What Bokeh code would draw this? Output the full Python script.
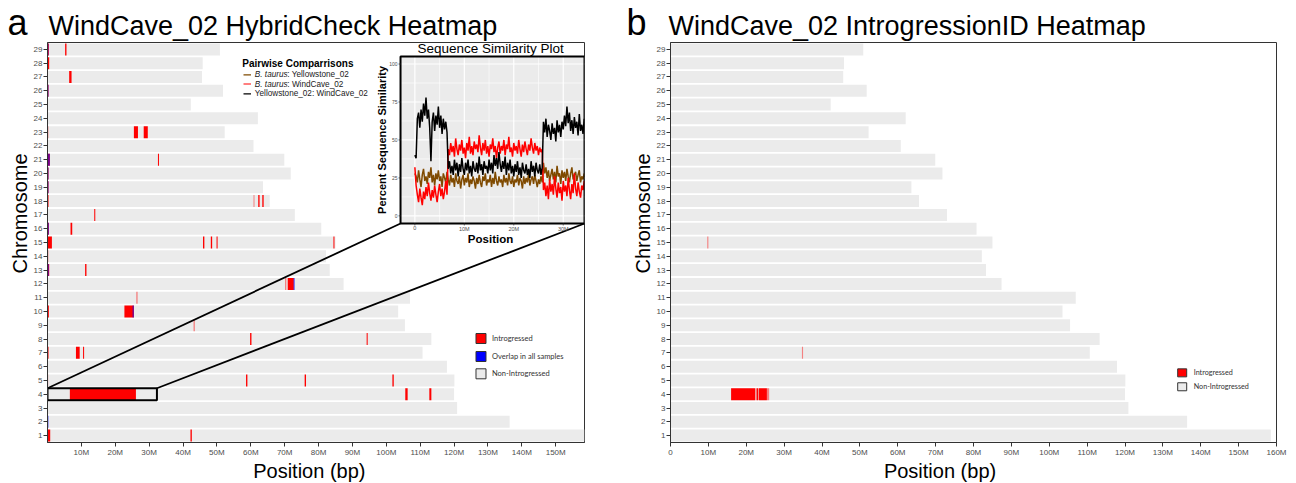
import math
from bokeh.plotting import figure
from bokeh.layouts import row, column
from bokeh.models import Range1d, FixedTicker, Title
from bokeh.embed import file_html
from bokeh.resources import INLINE
from bokeh.core.properties import value

FONT = "Liberation Sans"
LEG_FONT = "Lato"
MB = 1e6

# ---------------- data ----------------
CHROMS = list(range(1, 30))
CHROM_LEN_MB = [158.5, 136.4, 120.9, 120.0, 120.1, 117.9, 110.7, 113.3, 105.5, 103.5,
                107.0, 87.4, 83.3, 82.2, 85.0, 80.8, 73.0, 65.6, 63.6, 71.8,
                69.9, 60.8, 52.3, 62.1, 42.3, 51.8, 45.6, 45.8, 50.9]

# HybridCheck: introgressed windows
HC_CHR = [1, 1, 4, 4, 4, 5, 5, 5, 7, 7, 7, 8, 8, 10, 10, 12, 13, 13, 14, 15, 15, 15, 15, 15,
          16, 16, 17, 18, 18, 18, 19, 20, 21, 21, 23, 23, 23, 26, 27, 28, 29, 29]
HC_START = [0.0, 42.2, 6.6, 105.6, 112.7, 58.6, 75.9, 101.8, 0.0, 8.4, 10.5, 59.8, 94.2, 0.0, 22.7,
            70.9, 0.0, 11.1, 0.0, 0.0, 45.9, 48.2, 49.9, 84.4, 0.0, 6.8, 13.8, 0.0, 62.2, 63.4,
            0.0, 0.0, 0.0, 32.6, 0.0, 25.5, 28.4, 0.0, 6.4, 0.0, 0.0, 5.2]
HC_END = [0.8, 42.6, 26.1, 106.3, 113.3, 59.0, 76.3, 102.2, 0.3, 9.5, 10.8, 60.2, 94.5, 0.4, 25.5,
          72.7, 0.5, 11.5, 0.2, 1.3, 46.3, 48.6, 50.2, 84.7, 0.4, 7.3, 14.1, 0.3, 62.6, 63.8,
          0.3, 0.3, 0.7, 32.9, 0.2, 26.7, 29.6, 0.3, 7.1, 0.5, 0.4, 5.6]
# HybridCheck: weak (partial) introgression signal
HCF_CHR = [9, 11, 12, 18, 5]
HCF_START = [43.1, 26.2, 70.1, 60.8, 0.0]
HCF_END = [43.5, 26.6, 70.5, 61.1, 0.2]
# HybridCheck: overlap in all samples
HCO_CHR = [2, 13, 16, 19, 20, 21, 26, 29, 12, 10]
HCO_START = [0.0, 0.0, 0.0, 0.0, 0.0, 0.0, 0.0, 0.0, 72.6, 25.1]
HCO_END = [0.3, 0.4, 0.4, 0.3, 0.3, 0.7, 0.3, 0.3, 73.0, 25.5]

# IntrogressionID
ID_CHR = [4, 4, 4]
ID_START = [16.0, 22.7, 23.35]
ID_END = [22.4, 23.2, 25.45]
IDF_CHR = [4, 7, 15]
IDF_START = [25.45, 34.7, 9.7]
IDF_END = [26.05, 35.0, 10.0]

# zoomed region (chromosome 4)
ZOOM_CHR = 4
ZOOM_START_MB = 0.0
ZOOM_END_MB = 32.3

# sequence similarity along the zoomed region
SIM_POS_MB = [0.0, 0.25, 0.5, 0.75, 1.0, 1.25, 1.5, 1.75, 2.0, 2.25,
              2.5, 2.75, 3.0, 3.25, 3.5, 3.75, 4.0, 4.25, 4.5, 4.75,
              5.0, 5.25, 5.5, 5.75, 6.0, 6.25, 6.5, 6.75, 7.0, 7.25,
              7.5, 7.75, 8.0, 8.25, 8.5, 8.75, 9.0, 9.25, 9.5, 9.75,
              10.0, 10.25, 10.5, 10.75, 11.0, 11.25, 11.5, 11.75, 12.0, 12.25,
              12.5, 12.75, 13.0, 13.25, 13.5, 13.75, 14.0, 14.25, 14.5, 14.75,
              15.0, 15.25, 15.5, 15.75, 16.0, 16.25, 16.5, 16.75, 17.0, 17.25,
              17.5, 17.75, 18.0, 18.25, 18.5, 18.75, 19.0, 19.25, 19.5, 19.75,
              20.0, 20.25, 20.5, 20.75, 21.0, 21.25, 21.5, 21.75, 22.0, 22.25,
              22.5, 22.75, 23.0, 23.25, 23.5, 23.75, 24.0, 24.25, 24.5, 24.75,
              25.0, 25.25, 25.5, 25.75, 26.0, 26.25, 26.5, 26.75, 27.0, 27.25,
              27.5, 27.75, 28.0, 28.25, 28.5, 28.75, 29.0, 29.25, 29.5, 29.75,
              30.0, 30.25, 30.5, 30.75, 31.0, 31.25, 31.5, 31.75, 32.0, 32.25,
              32.5, 32.75, 33.0, 33.25, 33.5, 33.75, 34.0, 34.25]
SIM_TAURUS_YELLOWSTONE = [28, 26, 22, 30, 24, 19, 27, 31, 23, 26,
                          21, 29, 25, 32, 22, 27, 20, 28, 24, 30,
                          23, 26, 19, 28, 25, 22, 29, 24, 20, 27,
                          22, 25, 19, 28, 23, 21, 26, 18, 24, 27,
                          20, 25, 22, 28, 19, 24, 21, 26, 23, 18,
                          25, 21, 27, 22, 19, 26, 23, 28, 20, 24,
                          22, 27, 19, 25, 21, 29, 23, 20, 26, 22,
                          24, 19, 27, 22, 25, 20, 28, 23, 21, 26,
                          19, 24, 22, 27, 20, 25, 23, 18, 26, 21,
                          25, 22, 28, 20, 24, 26, 21, 27, 23, 19,
                          24, 21, 26, 22, 35, 28, 32, 25, 30, 23,
                          27, 31, 24, 29, 22, 33, 26, 28, 21, 30,
                          25, 29, 23, 31, 26, 22, 28, 32, 24, 27,
                          29, 23, 27, 30, 22, 26, 24, 28]
SIM_TAURUS_WINDCAVE = [32, 20, 14, 9, 18, 12, 7, 16, 11, 19,
                       13, 22, 15, 10, 17, 12, 20, 14, 9, 16,
                       21, 13, 18, 11, 16, 23, 14, 44, 40, 48,
                       42, 46, 39, 51, 44, 40, 47, 43, 50, 41,
                       45, 38, 48, 43, 52, 41, 46, 40, 49, 44,
                       47, 42, 53, 45, 40, 48, 43, 50, 41, 46,
                       39, 47, 44, 51, 42, 46, 38, 45, 49, 41,
                       46, 43, 50, 40, 47, 44, 52, 42, 45, 39,
                       48, 43, 46, 41, 50, 44, 39, 47, 42, 49,
                       44, 40, 47, 43, 51, 45, 41, 48, 43, 46,
                       40, 45, 42, 44, 17, 22, 13, 20, 11, 24,
                       16, 21, 14, 26, 18, 12, 22, 15, 19, 10,
                       23, 16, 20, 13, 25, 17, 11, 21, 15, 28,
                       18, 13, 22, 16, 12, 20, 17, 23]
SIM_YELLOWSTONE_WINDCAVE = [40, 38, 64, 68, 58, 70, 62, 74, 66, 78,
                            64, 70, 58, 36, 62, 68, 56, 66, 60, 72,
                            58, 66, 54, 64, 57, 62, 55, 31, 36, 28,
                            33, 27, 37, 30, 35, 26, 34, 29, 38, 31,
                            27, 35, 30, 37, 28, 33, 26, 36, 31, 29,
                            35, 28, 39, 30, 34, 27, 36, 31, 33, 28,
                            37, 30, 35, 28, 40, 33, 38, 31, 42, 34,
                            29, 36, 31, 39, 27, 35, 30, 37, 28, 33,
                            26, 34, 29, 36, 27, 32, 25, 35, 30, 28,
                            34, 27, 31, 25, 36, 29, 33, 26, 35, 30,
                            28, 34, 27, 32, 62, 55, 64, 52, 60, 56,
                            50, 61, 54, 58, 49, 63, 55, 60, 52, 62,
                            57, 66, 59, 72, 61, 68, 56, 63, 54, 65,
                            58, 62, 53, 67, 56, 60, 54, 64]

SIM_Y_MAJOR = [0, 25, 50, 75, 100]
SIM_Y_MINOR = [12.5, 37.5, 62.5, 87.5]
SIM_Y_LABELS = ["0", "25", "50", "75", "100"]
SIM_X_MAJOR_MB = [0, 10, 20, 30]
SIM_X_MINOR_MB = [5, 15, 25]
SIM_X_LABELS = ["0", "10M", "20M", "30M"]

PAIR_LABELS_ITALIC = ["B. taurus", "B. taurus", ""]
PAIR_LABELS_REST = [": Yellowstone_02", ": WindCave_02", "Yellowstone_02: WindCave_02"]
PAIR_COLORS = ["#7F4A00", "#FF0000", "#000000"]

XTICKS_A_MB = [10, 20, 30, 40, 50, 60, 70, 80, 90, 100, 110, 120, 130, 140, 150]
XTICKS_B_MB = [0, 10, 20, 30, 40, 50, 60, 70, 80, 90, 100, 110, 120, 130, 140, 150, 160]

PANEL_LETTERS = ["a", "b"]
PANEL_TITLES = ["WindCave_02 HybridCheck Heatmap", "WindCave_02 IntrogressionID Heatmap"]

RED = "#FF0000"
BLUE = "#0000FF"
BAR_GRAY = "#EBEBEB"
BAR_H = 0.87
HEADER_H = 41
TOTAL_W = 1296


def mb(vals):
    return [v * MB for v in vals]


def tick_label(v):
    return "0" if v == 0 else f"{v}M"


def main_fig(width, xmax, border_left, border_right, xticks_mb, ylab_offset, xlab_offset):
    p = figure(width=width, height=483 - HEADER_H, x_range=Range1d(0, xmax), y_range=Range1d(0.5, 29.5),
               output_backend="svg", toolbar_location=None,
               min_border_left=border_left, min_border_right=border_right,
               min_border_top=1, min_border_bottom=41)
    p.xgrid.visible = False
    p.ygrid.visible = False
    p.outline_line_color = "#333333"
    p.outline_line_width = 1
    ticks = [int(v * MB) for v in xticks_mb]
    p.xaxis.ticker = FixedTicker(ticks=ticks)
    p.xaxis.major_label_overrides = {t: tick_label(v) for t, v in zip(ticks, xticks_mb)}
    p.yaxis.ticker = FixedTicker(ticks=CHROMS)
    for ax in (p.xaxis[0], p.yaxis[0]):
        ax.axis_line_color = "#333333"
        ax.axis_line_width = 1
        ax.major_tick_line_color = "#333333"
        ax.major_tick_in = 0
        ax.major_tick_out = 4
        ax.minor_tick_line_color = None
        ax.major_label_text_font = FONT
        ax.major_label_text_font_size = "8px"
        ax.major_label_text_color = "#4D4D4D"
        ax.major_label_standoff = 1
    p.add_layout(Title(text="Chromosome", align="left", offset=ylab_offset, vertical_align="bottom",
                       standoff=0, text_font=FONT, text_font_size="20px", text_font_style="normal",
                       text_color="#000000"), "left")
    p.add_layout(Title(text="Position (bp)", align="left", offset=xlab_offset, vertical_align="top",
                       standoff=0, text_font=FONT, text_font_size="20px", text_font_style="normal",
                       text_color="#000000"), "below")
    p.hbar(y=CHROMS, left=0, right=mb(CHROM_LEN_MB), height=BAR_H, fill_color=BAR_GRAY, line_color=None)
    return p


# ---------------- header (panel letters and titles) ----------------
hd = figure(width=TOTAL_W, height=HEADER_H, x_range=Range1d(0, TOTAL_W), y_range=Range1d(0, HEADER_H),
            title=None, x_axis_type=None, y_axis_type=None, output_backend="svg", toolbar_location=None,
            min_border=0, min_border_left=0, min_border_right=0, min_border_top=0, min_border_bottom=0)
hd.grid.visible = False
hd.outline_line_color = None
hd.text(x=[7, 626], y=[HEADER_H] * 2, y_offset=22.3, text=PANEL_LETTERS, text_baseline="middle",
        text_font=value(FONT), text_font_size="36px", text_color="#000000")
hd.text(x=[48, 668], y=[HEADER_H] * 2, y_offset=25.1, text=PANEL_TITLES, text_baseline="middle",
        text_font=value(FONT), text_font_size="27px", text_color="#000000")

# ---------------- panel a ----------------
XMAX_A = max(CHROM_LEN_MB) * MB
pa = main_fig(600, XMAX_A, 47, 16, XTICKS_A_MB, 169, 205.7)
pa.hbar(y=HC_CHR, left=mb(HC_START), right=mb(HC_END), height=BAR_H, fill_color=RED, line_color=None)
pa.hbar(y=HCF_CHR, left=mb(HCF_START), right=mb(HCF_END), height=BAR_H,
        fill_color=RED, fill_alpha=0.45, line_color=None)
pa.hbar(y=HCO_CHR, left=mb(HCO_START), right=mb(HCO_END), height=BAR_H,
        fill_color=BLUE, fill_alpha=0.55, line_color=None)

# zoom box and connector lines
INSET_X0 = 104.2 * MB
INSET_Y0 = 16.38
INSET_Y1 = 28.49
box_half = 0.435
pa.quad(left=[ZOOM_START_MB * MB], right=[ZOOM_END_MB * MB],
        bottom=[ZOOM_CHR - box_half], top=[ZOOM_CHR + box_half],
        fill_color=None, line_color="black", line_width=2)
pa.segment(x0=[ZOOM_START_MB * MB, ZOOM_END_MB * MB], y0=[ZOOM_CHR + box_half] * 2,
           x1=[INSET_X0, XMAX_A], y1=[INSET_Y0] * 2, line_color="black", line_width=1.8)

# inset: sequence similarity plot
SX0, SX1 = -2.9 * MB, 34.3 * MB
SY0, SY1 = -5, 105
sub = pa.subplot(x_source=Range1d(SX0, SX1), y_source=Range1d(SY0, SY1),
                 x_target=Range1d(INSET_X0, XMAX_A), y_target=Range1d(INSET_Y0, INSET_Y1))
sub.quad(left=[SX0], right=[SX1], bottom=[SY0], top=[SY1], fill_color=BAR_GRAY, line_color=None)
sub.segment(x0=[SX0] * 4, x1=[SX1] * 4, y0=SIM_Y_MINOR, y1=SIM_Y_MINOR, line_color="white", line_width=0.6)
sub.segment(x0=mb(SIM_X_MINOR_MB), x1=mb(SIM_X_MINOR_MB), y0=[SY0] * 3, y1=[SY1] * 3,
            line_color="white", line_width=0.6)
sub.segment(x0=[SX0] * 5, x1=[SX1] * 5, y0=SIM_Y_MAJOR, y1=SIM_Y_MAJOR, line_color="white", line_width=1.2)
sub.segment(x0=mb(SIM_X_MAJOR_MB), x1=mb(SIM_X_MAJOR_MB), y0=[SY0] * 4, y1=[SY1] * 4,
            line_color="white", line_width=1.2)
pos = mb(SIM_POS_MB)
sub.line(pos, SIM_TAURUS_YELLOWSTONE, line_color=PAIR_COLORS[0], line_width=1.5)
sub.line(pos, SIM_TAURUS_WINDCAVE, line_color=PAIR_COLORS[1], line_width=1.5)
sub.line(pos, SIM_YELLOWSTONE_WINDCAVE, line_color=PAIR_COLORS[2], line_width=1.5)
sub.quad(left=[SX0], right=[SX1], bottom=[SY0], top=[SY1], fill_color=None,
         line_color="black", line_width=2)
sub.segment(x0=[SX0] * 5, x1=[SX0 - 0.4 * MB] * 5, y0=SIM_Y_MAJOR, y1=SIM_Y_MAJOR,
            line_color="#333333", line_width=0.8)
sub.segment(x0=mb(SIM_X_MAJOR_MB), x1=mb(SIM_X_MAJOR_MB), y0=[SY0] * 4, y1=[SY0 - 1.3] * 4,
            line_color="#333333", line_width=0.8)
sub.text(x=[SX0] * 5, y=SIM_Y_MAJOR, text=SIM_Y_LABELS, x_offset=-3, text_align="right",
         text_baseline="middle", text_font=value(FONT), text_font_size="5px", text_color="#4D4D4D")
sub.text(x=mb(SIM_X_MAJOR_MB), y=[SY0] * 4, text=SIM_X_LABELS, y_offset=3, text_align="center",
         text_baseline="top", text_font=value(FONT), text_font_size="5.5px", text_color="#4D4D4D")
sub.text(x=[15.3 * MB], y=[SY1], text=["Sequence Similarity Plot"], y_offset=-7.7, text_align="center",
         text_baseline="middle", text_font=value(FONT), text_font_size="13.5px", text_color="#000000")
sub.text(x=[-6.6 * MB], y=[50], text=["Percent Sequence Similarity"], angle=math.pi / 2,
         text_align="center", text_baseline="middle", text_font=value(FONT), text_font_size="11px",
         text_font_style="bold", text_color="#000000")
sub.text(x=[15.3 * MB], y=[-15.3], text=["Position"], text_align="center", text_baseline="middle",
         text_font=value(FONT), text_font_size="11.5px", text_font_style="bold", text_color="#000000")

# pairwise comparisons legend
PL_Y = [27.16, 26.49, 25.78]
pa.text(x=[57.5 * MB], y=[28.0], text=["Pairwise Comparrisons"], text_baseline="middle",
        text_font=value(FONT), text_font_size="10px", text_font_style="bold", text_color="#000000")
pa.segment(x0=[57.85 * MB] * 3, x1=[60.06 * MB] * 3, y0=PL_Y, y1=PL_Y,
           line_color=PAIR_COLORS, line_width=1.2)
pa.text(x=[61.2 * MB] * 2, y=PL_Y[:2], text=PAIR_LABELS_ITALIC[:2], text_baseline="middle",
        text_font=value(FONT), text_font_size="8.2px", text_font_style="italic", text_color="#1A1A1A")
pa.text(x=[61.2 * MB] * 3, y=PL_Y, text=PAIR_LABELS_REST, x_offset=[32.5, 32.5, 0],
        text_baseline="middle", text_font=value(FONT), text_font_size="8.2px", text_color="#1A1A1A")

# heatmap legend (panel a)
LA_Y = [8.04, 6.735, 5.48]
pa.rect(x=[127.95 * MB] * 3, y=LA_Y, width=10, height=10, width_units="screen", height_units="screen",
        fill_color=[RED, BLUE, BAR_GRAY], line_color="#333333", line_width=1)
pa.text(x=[127.95 * MB] * 3, y=LA_Y, text=["Introgressed", "Overlap in all samples", "Non-Introgressed"],
        x_offset=11, text_baseline="middle", text_font=value(LEG_FONT), text_font_size="7.5px",
        text_color="#333333")

# ---------------- panel b ----------------
pb = main_fig(696, 160 * MB, 70, 20, XTICKS_B_MB, 169, 213.4)
pb.hbar(y=ID_CHR, left=mb(ID_START), right=mb(ID_END), height=BAR_H, fill_color=RED, line_color=None)
pb.hbar(y=IDF_CHR, left=mb(IDF_START), right=mb(IDF_END), height=BAR_H,
        fill_color=RED, fill_alpha=0.45, line_color=None)
LB_Y = [5.55, 4.54]
pb.rect(x=[135.1 * MB] * 2, y=LB_Y, width=9, height=8, width_units="screen", height_units="screen",
        fill_color=[RED, BAR_GRAY], line_color="#333333", line_width=1)
pb.text(x=[135.1 * MB] * 2, y=LB_Y, text=["Introgressed", "Non-Introgressed"], x_offset=11.5,
        text_baseline="middle", text_font=value(LEG_FONT), text_font_size="7.2px", text_color="#333333")

layout = column(hd, row(pa, pb))
open("out.html", "w").write(file_html(layout, INLINE))
